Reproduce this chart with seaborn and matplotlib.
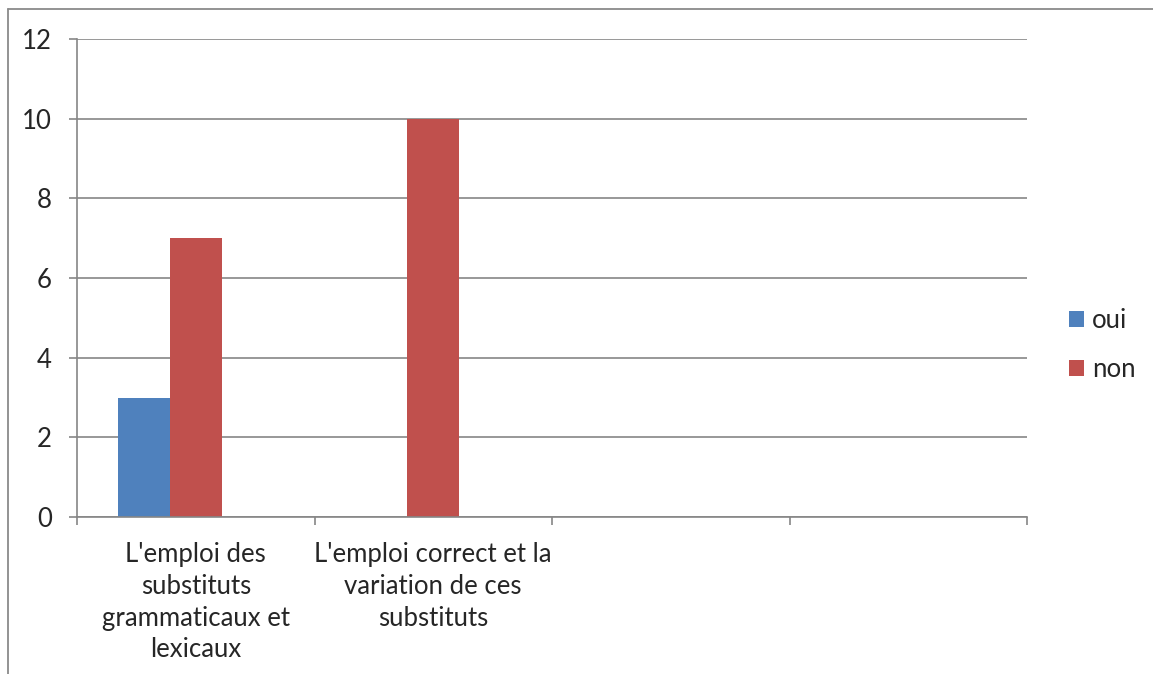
import numpy as np
import pandas as pd
import matplotlib
matplotlib.use("Agg")
import matplotlib.pyplot as plt
import seaborn as sns
from matplotlib.lines import Line2D
from matplotlib.ticker import FixedLocator

categories = [
    "L'emploi des\nsubstituts\ngrammaticaux et\nlexicaux",
    "L'emploi correct et la\nvariation de ces\nsubstituts",
    "cat3",
    "cat4",
]
tick_labels = [categories[0], categories[1], "", ""]
oui = [3, 0, np.nan, np.nan]
non = [7, 10, np.nan, np.nan]
serie3 = [np.nan, np.nan, np.nan, np.nan]  # empty third series in the source sheet
series = ["oui", "non", "Série3"]
colors = ["#4F81BD", "#C0504D", "#9BBB59"]

df = pd.DataFrame({
    "cat": categories * 3,
    "serie": ["oui"] * 4 + ["non"] * 4 + ["Série3"] * 4,
    "val": oui + non + serie3,
})

sns.set_style("white")
plt.rcParams["font.family"] = ["Lato", "DejaVu Sans"]
fs = 18.5
grid_c = "#868686"

fig = plt.figure(figsize=(11.53, 6.74), dpi=100)
ax = fig.add_axes([77 / 1153, 1 - 517 / 674, (1027 - 77) / 1153, (517 - 39) / 674])

sns.barplot(data=df, x="cat", y="val", hue="serie", order=categories,
            hue_order=series, palette=colors, width=0.655, saturation=1,
            edgecolor="none", linewidth=0, ax=ax)

ax.set_xlim(-0.5, 3.5)
ax.set_ylim(0, 12)
ax.set_yticks(range(0, 13, 2))
ax.yaxis.grid(True, color=grid_c, linewidth=1.2)
ax.set_axisbelow(True)
ax.set_xlabel("")
ax.set_ylabel("")

# category boundaries get the tick marks, labels sit on centres
ax.xaxis.set_major_locator(FixedLocator([-0.5, 0.5, 1.5, 2.5, 3.5]))
ax.xaxis.set_major_formatter(plt.NullFormatter())
ax.xaxis.set_minor_locator(FixedLocator([0, 1, 2, 3]))
ax.set_xticklabels(tick_labels, minor=True, fontsize=fs)
for t in ax.get_xticklabels(minor=True):
    t.set_linespacing(1.34)
ax.tick_params(axis="x", which="major", length=6, width=1.2, color=grid_c,
               direction="out", bottom=True)
ax.tick_params(axis="x", which="minor", length=0, pad=18)
ax.tick_params(axis="y", length=6, width=1.2, color=grid_c, direction="out",
               left=True, pad=12, labelsize=fs)

for s in ["top", "right"]:
    ax.spines[s].set_visible(False)
for s in ["left", "bottom"]:
    ax.spines[s].set_color(grid_c)
    ax.spines[s].set_linewidth(1.2)

handles, labels = ax.get_legend_handles_labels()
leg = ax.legend(handles[:2], labels[:2], loc="center left",
                bbox_to_anchor=(1069 / 1153, 1 - 345 / 674),
                bbox_transform=fig.transFigure, frameon=False, fontsize=fs,
                handlelength=0.6, handleheight=0.6, handletextpad=0.3,
                labelspacing=0.95, borderaxespad=0, borderpad=0)

# outer chart border (only top and left visible)
fig.add_artist(Line2D([8 / 1153, 1], [1 - 9 / 674, 1 - 9 / 674],
                      transform=fig.transFigure, color="#8a8a8a", linewidth=1.3))
fig.add_artist(Line2D([8 / 1153, 8 / 1153], [0, 1 - 9 / 674],
                      transform=fig.transFigure, color="#8a8a8a", linewidth=1.3))

fig.savefig("out.png", dpi=100)
